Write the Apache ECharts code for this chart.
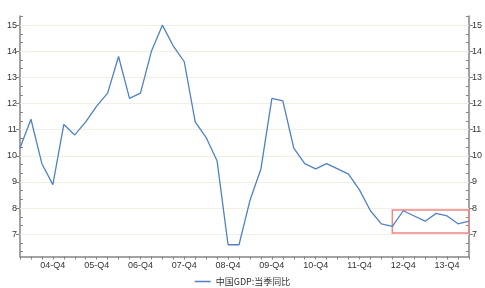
<!DOCTYPE html>
<html><head><meta charset="utf-8">
<script src="https://cdn.jsdelivr.net/npm/echarts@6/dist/echarts.min.js"></script>
<style>html,body{margin:0;padding:0;background:#fff}#c{width:485px;height:288px}</style>
</head><body><div id="c"></div>
<script>
var categories = [
 '04-Q1','04-Q2','04-Q3','04-Q4','05-Q1','05-Q2','05-Q3','05-Q4',
 '06-Q1','06-Q2','06-Q3','06-Q4','07-Q1','07-Q2','07-Q3','07-Q4',
 '08-Q1','08-Q2','08-Q3','08-Q4','09-Q1','09-Q2','09-Q3','09-Q4',
 '10-Q1','10-Q2','10-Q3','10-Q4','11-Q1','11-Q2','11-Q3','11-Q4',
 '12-Q1','12-Q2','12-Q3','12-Q4','13-Q1','13-Q2','13-Q3','13-Q4',
 '14-Q1','14-Q2'];
var gdpYoY = [
 10.3, 11.4, 9.7, 8.9,
 11.2, 10.8, 11.3, 11.9,
 12.4, 13.8, 12.2, 12.4,
 14.0, 15.0, 14.2, 13.6,
 11.3, 10.7, 9.8, 6.6,
 6.6, 8.3, 9.5, 12.2,
 12.1, 10.3, 9.7, 9.5,
 9.7, 9.5, 9.3, 8.7,
 7.9, 7.4, 7.3, 7.9,
 7.7, 7.5, 7.8, 7.7,
 7.4, 7.5];
var yTicks = [7, 8, 9, 10, 11, 12, 13, 14, 15];
var seriesName = '中国GDP:当季同比';
var boxFrom = ['12-Q3', 7.05];
var boxTo = ['14-Q2', 7.93];
var yMin = 6.15, yMax = 15.35;

var font = 'Liberation Sans';
var minorVals = [];
for (var k = 6; k <= 15; k++) {
  [k + 1 / 3, k + 2 / 3].forEach(function (v) { if (v > yMin && v < yMax) minorVals.push(v); });
}
function majorAxis(pos) {
  return {
    type: 'value', position: pos, min: yMin, max: yMax,
    axisLine: {show: true, lineStyle: {color: '#858585', width: 1.5}},
    axisTick: {show: true, length: 4, customValues: yTicks, lineStyle: {color: '#858585'}},
    axisLabel: {color: '#333', fontSize: 9, fontFamily: font, margin: 3, customValues: yTicks},
    splitLine: {show: false}
  };
}
function minorAxis(pos) {
  return {
    type: 'value', position: pos, min: yMin, max: yMax,
    axisLine: {show: false},
    axisTick: {show: true, inside: true, length: 3, customValues: minorVals, lineStyle: {color: '#858585'}},
    axisLabel: {show: false},
    splitLine: {show: false}
  };
}
var chart = echarts.init(document.getElementById('c'));
chart.setOption({
  animation: false,
  grid: {left: 20, right: 14, top: 16, bottom: 31.5},
  legend: {show: true, bottom: -3, left: 'center', itemWidth: 16, itemHeight: 1.5,
    icon: 'rect',
    textStyle: {fontSize: 9, fontFamily: 'Noto Sans CJK SC', color: '#333'}, itemGap: 2,
    data: [seriesName]},
  xAxis: {
    type: 'category', data: categories, boundaryGap: false,
    axisLine: {lineStyle: {color: '#858585', width: 1.5}},
    axisTick: {show: true, interval: 0, length: 3, lineStyle: {color: '#858585'}},
    axisLabel: {color: '#333', fontSize: 9, fontFamily: font, margin: 5,
      interval: function (i, v) { return /Q4$/.test(v); }},
    splitLine: {show: false}
  },
  yAxis: [majorAxis('left'), majorAxis('right'), minorAxis('left'), minorAxis('right')],
  series: [{
    name: seriesName, type: 'line', data: gdpYoY, symbol: 'none', z: 3,
    lineStyle: {color: '#4f81c4', width: 1.3}, itemStyle: {color: '#4f81c4'},
    markLine: {silent: true, symbol: 'none', label: {show: false}, z: 1,
      lineStyle: {color: '#f1eee3', width: 1, type: 'solid'},
      data: yTicks.map(function (v) { return {yAxis: v}; })},
    markArea: {silent: true,
      itemStyle: {color: 'rgba(0,0,0,0)', borderColor: '#f08585', borderWidth: 1.5},
      data: [[{coord: boxFrom}, {coord: boxTo}]]}
  }]
});
</script></body></html>
